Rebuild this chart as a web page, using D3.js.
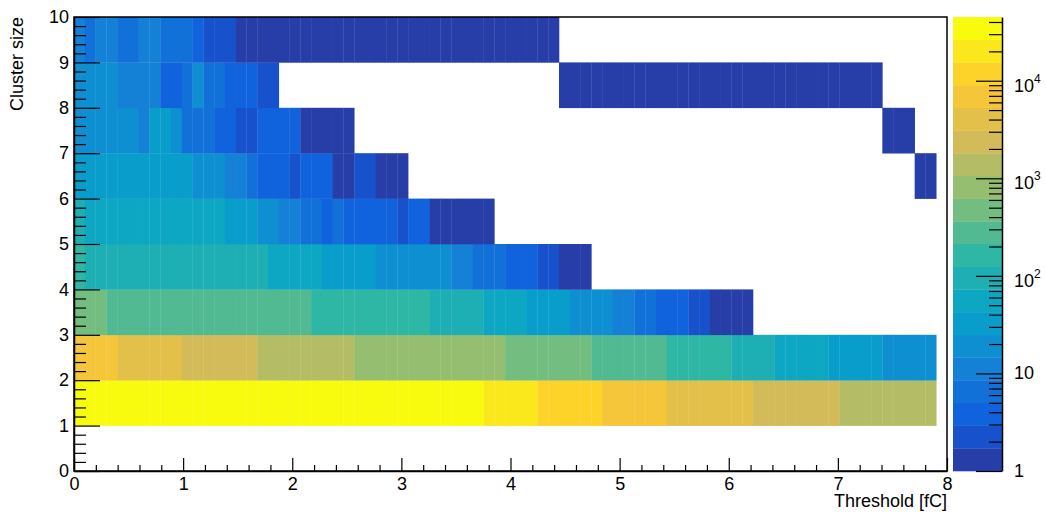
<!DOCTYPE html>
<html>
<head>
<meta charset="utf-8">
<script src="https://cdn.jsdelivr.net/npm/d3@7"></script>
<style>
body{margin:0;background:#fff;}
svg{display:block;font-family:"Liberation Sans",Arial,sans-serif;}
</style>
</head>
<body>
<main></main>
<script>
const sizeOfSVG={width:1046,height:512};
const frame={left:74,right:947,top:17,bottom:471};
const paletteBox={left:953,right:1002};

// x binning of the histogram
const nBinsX=81, xMin=0, xMax=8;
const clusterSizes=[1,2,3,4,5,6,7,8,9];

// runs of bins per cluster size: [firstBin, lastBin+1, counts]
const size1=[[0,1,45000],[1,38,36000],[38,43,21000],[43,49,12000],[49,55,7100],[55,63,4200],[63,71,2400],[71,80,1400]];
const size2=[[0,4,7100],[4,10,4200],[10,17,2400],[17,26,1400],[26,40,830],[40,48,480],[48,55,280],[55,61,165],[61,65,96],[65,70,56],[70,75,33],[75,80,19]];
const size3=[[0,3,480],[3,22,280],[22,33,165],[33,38,96],[38,42,56],[42,46,33],[46,50,19],[50,52,11],[52,54,6],[54,57,4],[57,59,2],[59,63,1]];
const size4=[[0,1,165],[1,18,96],[18,23,56],[23,28,33],[28,35,19],[35,37,11],[37,40,6],[40,43,4],[43,45,2],[45,48,1]];
const size5=[[0,1,96],[1,14,56],[14,17,33],[17,19,19],[19,21,11],[21,23,6],[23,24,4],[24,25,6],[25,30,4],[30,31,2],[31,33,4],[33,39,1]];
const size6=[[0,11,33],[11,14,19],[14,16,11],[16,17,6],[17,20,4],[20,21,2],[21,24,4],[24,26,1],[26,28,2],[28,31,1],[78,80,1]];
const size7=[[0,6,19],[6,7,11],[7,9,33],[9,10,19],[10,13,6],[13,15,4],[15,17,2],[17,21,4],[21,26,1],[75,78,1]];
const size8=[[0,4,19],[4,8,11],[8,10,4],[10,11,6],[11,12,19],[12,14,6],[14,17,4],[17,19,2],[45,75,1]];
const size9=[[0,1,11],[1,2,6],[2,4,11],[4,6,6],[6,8,11],[8,11,6],[11,12,4],[12,15,2],[15,45,1]];
const rows=[size1,size2,size3,size4,size5,size6,size7,size8,size9];

const xTickValues=[0,1,2,3,4,5,6,7,8];
const yTickValues=[0,1,2,3,4,5,6,7,8,9,10];
const zTickValues=[1,10,100,1000,10000];
const zTickLabels=[["1",""],["10",""],["10","2"],["10","3"],["10","4"]];
const nContours=20;

// ROOT kBird palette
const birdStops=[0,0.125,0.25,0.375,0.5,0.625,0.75,0.875,1];
const birdR=[0.2082,0.0592,0.0780,0.0232,0.1802,0.5301,0.8186,0.9956,0.9764];
const birdG=[0.1664,0.3599,0.5041,0.6419,0.7178,0.7492,0.7328,0.7862,0.9832];
const birdB=[0.5293,0.8684,0.8385,0.7914,0.6425,0.4662,0.3499,0.1968,0.0539];

const svg=d3.select('main')
    .append('svg')
    .attr('width',sizeOfSVG.width)
    .attr('height',sizeOfSVG.height)

const binWidth=(xMax-xMin)/nBinsX
const xScale=d3.scaleLinear().domain([xMin,xMax]).range([frame.left,frame.right])
const yScale=d3.scaleLinear().domain([0,10]).range([frame.bottom,frame.top])

const cells=rows.flatMap((runs,r)=>runs.flatMap(([a,b,v])=>
    d3.range(a,b).map(k=>({bin:k,size:clusterSizes[r],value:v}))))

const zMax=d3.max(cells,d=>d.value)
const logMax=Math.log10(zMax)
const zScale=d3.scaleLog().domain([1,zMax]).range([frame.bottom,frame.top])

const bird=d3.scaleLinear()
    .domain(birdStops)
    .range(birdStops.map((s,i)=>d3.rgb(birdR[i]*255,birdG[i]*255,birdB[i]*255).formatHex()))
const levelColour=i=>bird(Math.floor((i+0.99)*255/nContours)/254)
const level=v=>Math.min(nContours-1,Math.floor(nContours*Math.log10(v)/logMax))

// cells
svg.append('g')
    .selectAll('rect')
    .data(cells)
    .enter()
    .append('rect')
    .attr('x',d=>xScale(d.bin*binWidth))
    .attr('width',d=>xScale((d.bin+1)*binWidth)-xScale(d.bin*binWidth)+0.3)
    .attr('y',d=>yScale(d.size+1))
    .attr('height',d=>yScale(d.size)-yScale(d.size+1)+0.3)
    .attr('fill',d=>levelColour(level(d.value)))

// frame
svg.append('rect')
    .attr('x',frame.left).attr('y',frame.top)
    .attr('width',frame.right-frame.left).attr('height',frame.bottom-frame.top)
    .attr('fill','none').attr('stroke','#000').attr('stroke-width',1.5)

const styleAxis=g=>{
    g.selectAll('line').attr('stroke','#000').attr('stroke-width',1.2)
    g.selectAll('path').attr('stroke','#000').attr('stroke-width',1.5)
    g.selectAll('text').attr('font-size',18).attr('fill','#000')
        .attr('font-family','"Liberation Sans",Arial,sans-serif')
}

// x axis
svg.append('g')
    .attr('transform',`translate(0,${frame.bottom})`)
    .call(d3.axisBottom(xScale).tickValues(xTickValues).tickSize(-13).tickSizeOuter(0).tickPadding(6).tickFormat(d3.format('d')))
    .call(styleAxis)
svg.append('g')
    .attr('transform',`translate(0,${frame.bottom})`)
    .call(d3.axisBottom(xScale).tickValues(d3.range(0,41).filter(i=>i%5).map(i=>i/5)).tickSize(-6).tickFormat(''))
    .call(g=>g.select('.domain').remove())
    .call(styleAxis)

// y axis
svg.append('g')
    .attr('transform',`translate(${frame.left},0)`)
    .call(d3.axisLeft(yScale).tickValues(yTickValues).tickSize(-26).tickSizeOuter(0).tickPadding(5).tickFormat(d3.format('d')))
    .call(styleAxis)
svg.append('g')
    .attr('transform',`translate(${frame.left},0)`)
    .call(d3.axisLeft(yScale).tickValues(d3.range(0,51).filter(i=>i%5).map(i=>i/5)).tickSize(-12).tickFormat(''))
    .call(g=>g.select('.domain').remove())
    .call(styleAxis)

// axis titles
svg.append('text')
    .attr('x',frame.right).attr('y',507)
    .attr('text-anchor','end').attr('font-size',18)
    .text('Threshold [fC]')
svg.append('text')
    .attr('transform',`translate(23,${frame.top}) rotate(-90)`)
    .attr('text-anchor','end').attr('font-size',18)
    .text('Cluster size')

// colour palette
const bandStep=logMax/nContours
svg.append('g')
    .selectAll('rect')
    .data(d3.range(nContours))
    .enter()
    .append('rect')
    .attr('x',paletteBox.left)
    .attr('width',paletteBox.right-paletteBox.left)
    .attr('y',i=>zScale(Math.pow(10,(i+1)*bandStep)))
    .attr('height',i=>zScale(Math.pow(10,i*bandStep))-zScale(Math.pow(10,(i+1)*bandStep))+0.3)
    .attr('fill',i=>levelColour(i))

const zMinor=[1,10,100,1000,10000].flatMap(d=>d3.range(2,10).map(m=>m*d)).filter(v=>v<=zMax)
svg.append('g')
    .attr('transform',`translate(${paletteBox.right},0)`)
    .call(d3.axisRight(zScale).tickValues(zTickValues).tickSize(-26).tickSizeOuter(0).tickFormat(''))
    .call(styleAxis)
svg.append('g')
    .attr('transform',`translate(${paletteBox.right},0)`)
    .call(d3.axisRight(zScale).tickValues(zMinor).tickSize(-13).tickFormat(''))
    .call(g=>g.select('.domain').remove())
    .call(styleAxis)

const zLabels=svg.append('g')
    .selectAll('text')
    .data(zTickValues)
    .enter()
    .append('text')
    .attr('x',paletteBox.right+12)
    .attr('y',(d,i)=>zScale(d)+(zTickLabels[i][1]?11:6))
    .attr('font-size',18)
zLabels.append('tspan').text((d,i)=>zTickLabels[i][0])
zLabels.append('tspan')
    .attr('font-size',12)
    .attr('dy',-9)
    .text((d,i)=>zTickLabels[i][1])
</script>
</body>
</html>
